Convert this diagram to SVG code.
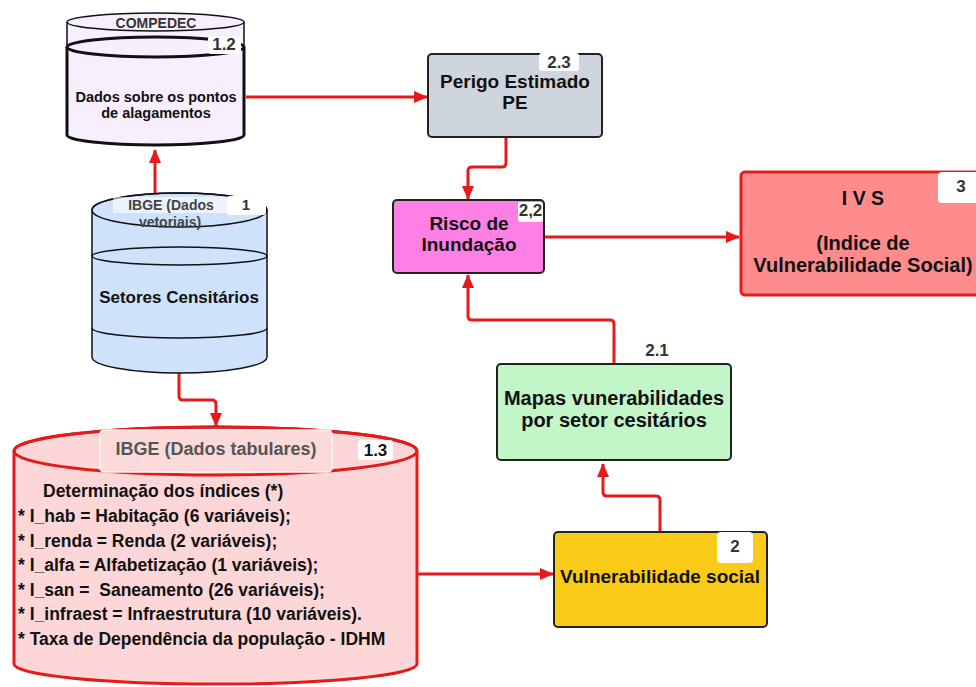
<svg xmlns="http://www.w3.org/2000/svg" width="976" height="687" viewBox="0 0 976 687">
<defs>
<marker id="arr" markerWidth="14" markerHeight="12" refX="13" refY="6" orient="auto" markerUnits="userSpaceOnUse">
<path d="M0,0 L14,6 L0,12 Z" fill="#e41b1b"/>
</marker>
<style>
text{font-family:"Liberation Sans",Arial,sans-serif;font-weight:bold;fill:#111;text-anchor:middle}
.conn{fill:none;stroke:#e41b1b;stroke-width:3;stroke-linejoin:round}
.box{stroke:#222;stroke-width:2}
.tag{fill:#fff}
.lbl{font-size:17px;fill:#333}
.list{text-anchor:start;font-size:17.5px}
</style>
</defs>
<rect width="976" height="687" fill="#fff"/>

<g id="connectors">
<path class="conn" d="M155,195 L155,150" marker-end="url(#arr)"/>
<path class="conn" d="M246,97 L427,97" marker-end="url(#arr)"/>
<path class="conn" d="M506,137 L506,163 Q506,167 502,167 L472,167 Q468,167 468,171 L468,199" marker-end="url(#arr)"/>
<path class="conn" d="M544,237 L739,237" marker-end="url(#arr)"/>
<path class="conn" d="M614,364 L614,324 Q614,320 610,320 L472,320 Q468,320 468,316 L468,275" marker-end="url(#arr)"/>
<path class="conn" d="M660,532 L660,500 Q660,496 656,496 L607,496 Q603,496 603,492 L603,464" marker-end="url(#arr)"/>
<path class="conn" d="M418,574 L553,574" marker-end="url(#arr)"/>
<path class="conn" d="M179,373 L179,396 Q179,400 183,400 L212,400 Q216,400 216,404 L216,426" marker-end="url(#arr)"/>
</g>

<g id="node-1-2">
<path d="M67,22 A88.5,9 0 0 1 244,22 L244,135 A88.5,10 0 0 1 67,135 Z" fill="#f7effd"/>
<ellipse cx="155.5" cy="22" rx="88.5" ry="9" fill="none" stroke="#111" stroke-width="1.5"/>
<path d="M67,22 L67,47 M244,22 L244,47" stroke="#111" stroke-width="1.5" fill="none"/>
<ellipse cx="155.5" cy="47" rx="88.5" ry="10" fill="none" stroke="#111" stroke-width="3"/>
<path d="M67,47 L67,135 A88.5,10 0 0 0 244,135 L244,47" fill="none" stroke="#111" stroke-width="3"/>
<text x="156" y="28" style="font-size:14px;fill:#333">COMPEDEC</text>
<rect class="tag" x="208" y="36" width="33" height="18" rx="3"/>
<text x="224" y="50" class="lbl">1.2</text>
<text x="156" y="102" style="font-size:14.5px">Dados sobre os pontos</text>
<text x="156" y="118" style="font-size:14.5px">de alagamentos</text>
</g>

<g id="node-1">
<path d="M92,210 A87.5,17 0 0 1 267,210 L267,357 A87.5,16 0 0 1 92,357 Z" fill="#cfe2fc" stroke="#111" stroke-width="1.5"/>
<ellipse cx="179.5" cy="210" rx="87.5" ry="17" fill="none" stroke="#111" stroke-width="1.5"/>
<ellipse cx="179.5" cy="256" rx="87.5" ry="9" fill="none" stroke="#111" stroke-width="1.5"/>
<path d="M92,328 A87.5,10 0 0 0 267,328" fill="none" stroke="#111" stroke-width="1.5"/>
<rect x="113" y="197" width="114" height="16" fill="#fff" fill-opacity="0.6"/>
<rect class="tag" x="227" y="196" width="39" height="19" rx="3"/>
<text x="246" y="210" class="lbl" style="font-size:15px">1</text>
<text x="171" y="210" style="font-size:14px;fill:#444">IBGE (Dados</text>
<text x="170" y="227" style="font-size:14px;fill:#444">vetoriais)</text>
<text x="179" y="303" style="font-size:17px">Setores Censitários</text>
</g>

<g id="node-1-3">
<path d="M14,451 A201.5,24 0 0 1 417,451 L417,664 A201.5,20 0 0 1 14,664 Z" fill="#fdd7d7" stroke="#e31b1b" stroke-width="3"/>
<ellipse cx="215.5" cy="451" rx="201.5" ry="24" fill="none" stroke="#e31b1b" stroke-width="3"/>
<rect x="100" y="430" width="232" height="42" rx="4" fill="#fcdada" stroke="#fff2f2" stroke-width="1.5"/>
<text x="216" y="455" style="font-size:18px;fill:#555">IBGE (Dados tabulares)</text>
<rect class="tag" x="358" y="440" width="35" height="20" rx="3"/>
<text x="375.5" y="456" class="lbl" style="font-size:17px;fill:#111">1.3</text>
<text x="43" y="497" class="list">Determinação dos índices (*)</text>
<text x="18" y="522" class="list">* I_hab = Habitação (6 variáveis);</text>
<text x="18" y="546.5" class="list">* I_renda = Renda (2 variáveis);</text>
<text x="18" y="571" class="list">* I_alfa = Alfabetização (1 variáveis);</text>
<text x="18" y="595.5" class="list" xml:space="preserve">* I_san =  Saneamento (26 variáveis);</text>
<text x="18" y="620" class="list">* I_infraest = Infraestrutura (10 variáveis).</text>
<text x="18" y="644.5" class="list">* Taxa de Dependência da população - IDHM</text>
</g>

<g id="node-2-3">
<rect class="box" x="428" y="54" width="174" height="83" rx="4" fill="#cfd5dd"/>
<rect class="tag" x="539" y="53" width="40" height="18" rx="3"/>
<text x="559" y="68" class="lbl">2.3</text>
<text x="515" y="88" style="font-size:19px">Perigo Estimado</text>
<text x="515" y="109" style="font-size:19px">PE</text>
</g>

<g id="node-2-2">
<rect class="box" x="393" y="200" width="151" height="73" rx="4" fill="#fe80e4"/>
<rect class="tag" x="518" y="202" width="25" height="20" rx="3"/>
<text x="530.5" y="216" class="lbl">2,2</text>
<text x="469" y="230" style="font-size:19px">Risco de</text>
<text x="469" y="251" style="font-size:19px">Inundação</text>
</g>

<g id="node-3">
<rect x="741" y="172" width="250" height="123" rx="4" fill="#fe8c8c" stroke="#e21d1d" stroke-width="3"/>
<rect class="tag" x="938" y="172" width="45" height="31" rx="4"/>
<text x="961" y="192" class="lbl">3</text>
<text x="863" y="205" style="font-size:19.5px" xml:space="preserve">I V S</text>
<text x="863" y="250" style="font-size:20px">(Indice de</text>
<text x="863" y="272" style="font-size:20px">Vulnerabilidade Social)</text>
</g>

<g id="node-2-1">
<rect class="box" x="497" y="364" width="234" height="96" rx="4" fill="#c2f5c8"/>
<rect class="tag" x="642" y="340" width="30" height="23" rx="3"/>
<text x="657" y="356" class="lbl">2.1</text>
<text x="614" y="405" style="font-size:20px">Mapas vunerabilidades</text>
<text x="614" y="427" style="font-size:20px">por setor cesitários</text>
</g>

<g id="node-2">
<rect class="box" x="554" y="532" width="213" height="95" rx="4" fill="#f9cb17"/>
<rect class="tag" x="717" y="532" width="36" height="31" rx="4"/>
<text x="735" y="552" class="lbl">2</text>
<text x="660" y="583" style="font-size:19px">Vulnerabilidade social</text>
</g>
</svg>
